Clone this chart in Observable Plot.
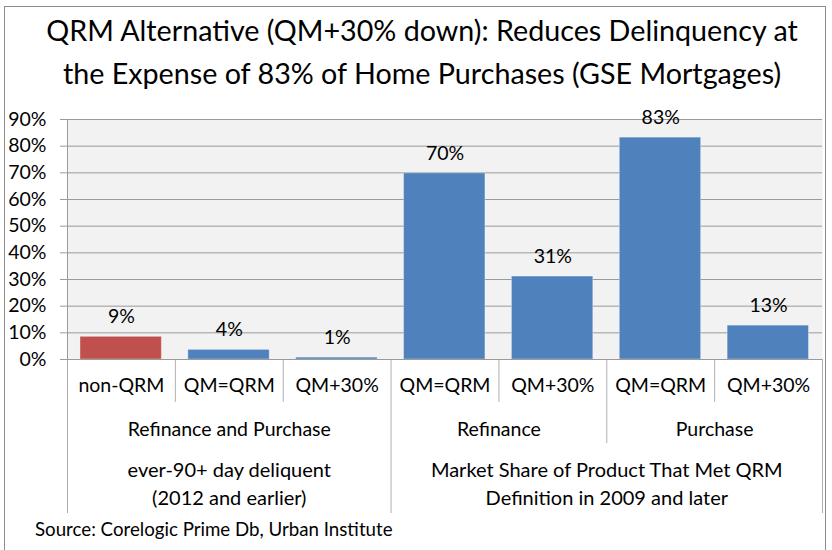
<!DOCTYPE html>
<html>
<head>
<meta charset="utf-8">
<script src="https://cdn.jsdelivr.net/npm/d3@7"></script>
<script src="https://cdn.jsdelivr.net/npm/@observablehq/plot@0.6"></script>
<style>
  html, body { margin: 0; padding: 0; background: #fff; }
  body { width: 832px; height: 550px; position: relative; overflow: hidden; font-family: Lato, "Open Sans", sans-serif; color: #000; }
  #frame { position: absolute; left: 4px; top: 6px; width: 822px; height: 560px; border: 1px solid #8c8c8c; box-sizing: border-box; }
  #title { position: absolute; left: 6px; top: 9px; width: 832px; text-align: center; font-size: 28.7px; line-height: 43px; }
  #chart { position: absolute; left: 0; top: 100px; }
  #source { position: absolute; left: 35px; top: 518px; font-size: 18.7px; }
  svg text { font-family: Lato, "Open Sans", sans-serif; }
</style>
</head>
<body>
<div id="frame"></div>
<div id="title">QRM Alternative (QM+30% down): Reduces Delinquency at<br>the Expense of 83% of Home Purchases (GSE Mortgages)</div>
<div id="chart"></div>
<div id="source">Source: Corelogic Prime Db, Urban Institute</div>
<script>
// ---- data ----
const categories = ["non-QRM", "QM=QRM", "QM+30%", "QM=QRM", "QM+30%", "QM=QRM", "QM+30%"];
const values = [8.5, 3.6, 0.7, 69.8, 31.1, 83.2, 12.7];
const kinds = ["nonqrm", "qrm", "qrm", "qrm", "qrm", "qrm", "qrm"];
const level2Labels = ["Refinance and Purchase", "Refinance", "Purchase"];
const level2Starts = [0, 3, 5];
const level2Ends = [3, 5, 7];
const level3Labels = ["ever-90+ day deliquent\n(2012 and earlier)", "Market Share of Product That Met QRM\nDefinition in 2009 and later"];
const level3Starts = [0, 3];
const level3Ends = [3, 7];
const yTicks = [0, 10, 20, 30, 40, 50, 60, 70, 80, 90];

// ---- derived tables ----
const bars = categories.map((c, i) => ({i, label: c, value: values[i], kind: kinds[i]}));
const lvl2 = level2Labels.map((l, k) => ({label: l, start: level2Starts[k], end: level2Ends[k]}));
const lvl3 = level3Labels.map((l, k) => ({label: l, start: level3Starts[k], end: level3Ends[k]}));

// separators: boundary index and the row depth it reaches
const boundaries = d3.range(categories.length + 1);
const l2Bounds = new Set([...level2Starts, ...level2Ends]);
const l3Bounds = new Set([...level3Starts, ...level3Ends]);
const depths = [43, 84, 154];
const seps = boundaries.map(b => ({b, depth: l3Bounds.has(b) ? depths[2] : l2Bounds.has(b) ? depths[1] : depths[0]}));

const fs = 19.5;
const plot = Plot.plot({
  width: 832,
  height: 420,
  marginLeft: 67,
  marginRight: 10,
  marginTop: 19,
  marginBottom: 161,
  x: {type: "linear", domain: [0, categories.length], axis: null},
  y: {domain: [0, 90], axis: null},
  color: {domain: ["nonqrm", "qrm"], range: ["#C0504D", "#4F81BD"]},
  style: {fontFamily: "Lato, 'Open Sans', sans-serif", fontSize: fs + "px", background: "transparent"},
  marks: [
    Plot.frame({fill: "#f2f2f2", stroke: null}),
    Plot.gridY(yTicks, {stroke: "#9a9a9a", strokeOpacity: 1}),
    Plot.axisY({ticks: yTicks, label: null, tickSize: 7, tickPadding: 14, tickFormat: d => d + "%", fontSize: fs, stroke: "#9a9a9a", strokeOpacity: 1, fill: "#000"}),
    Plot.rectY(bars, {x1: d => d.i, x2: d => d.i + 1, y: "value", fill: "kind", insetLeft: 13, insetRight: 13.5, stroke: "#ffffff", strokeOpacity: 0.35, strokeWidth: 1}),
    Plot.text(bars, {x: d => d.i + 0.5, y: "value", text: d => Math.round(d.value) + "%", dy: -20, fontSize: fs, fill: "#000"}),
    ...depths.map(depth => Plot.ruleX(seps.filter(s => s.depth === depth), {x: "b", y1: 0, y2: 0, insetBottom: -depth, stroke: "#b0b0b0", strokeOpacity: 1})),
    Plot.ruleX([0], {stroke: "#9a9a9a", strokeOpacity: 1}),
    Plot.ruleY([0], {stroke: "#9a9a9a", strokeOpacity: 1, insetLeft: -7}),
    Plot.text(bars, {x: d => d.i + 0.5, frameAnchor: "bottom", dy: 32, text: "label", fontSize: fs, fill: "#000"}),
    Plot.text(lvl2, {x: d => (d.start + d.end) / 2, frameAnchor: "bottom", dy: 76, text: "label", fontSize: fs, fill: "#000"}),
    Plot.text(lvl3, {x: d => (d.start + d.end) / 2, frameAnchor: "bottom", dy: 145, text: "label", fontSize: 20, lineHeight: 1.37, fill: "#000"})
  ]
});
document.getElementById("chart").appendChild(plot);
</script>
</body>
</html>
